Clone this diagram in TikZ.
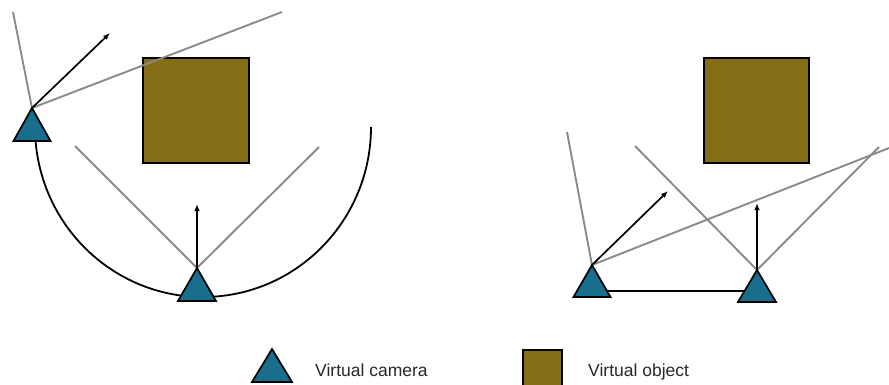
\documentclass[tikz,border=0pt]{standalone}
\usepackage{fontspec}
\setmainfont{Liberation Sans}
\usetikzlibrary{arrows.meta}
\definecolor{camblue}{RGB}{24,110,140}
\definecolor{objbrown}{RGB}{132,109,21}
\definecolor{raygray}{RGB}{138,138,138}
\definecolor{txtgray}{RGB}{40,40,40}
\tikzset{
  ray/.style={draw=raygray, line width=1.9pt},
  dir/.style={draw=black, line width=1.7pt, -{Latex[length=7pt,width=5.5pt]}},
  track/.style={draw=black, line width=1.8pt},
  objbox/.style={draw=black, line width=2.2pt, fill=objbrown},
  cambox/.style={draw=black, line width=1.7pt, fill=camblue, line join=miter},
  legendtext/.style={font=\fontsize{17.5}{20}\selectfont, text=txtgray, inner sep=0pt, anchor=base west}
}
\begin{document}
\begin{tikzpicture}[x=1pt,y=1pt]
\useasboundingbox (0,0) rectangle (889,384);
% ---------------- left diagram ----------------
\coordinate (c1) at (32,276);
\coordinate (c2) at (197,116);
\coordinate (c1up) at (13,372);
\coordinate (c1dir) at (110,351);
\coordinate (c1far) at (282,372);
\coordinate (c2dir) at (197,180);
\coordinate (c2l) at (75,238);
\coordinate (c2r) at (319,237);
\coordinate (arcR) at (371,257);
% object
\path[objbox] (143,221) rectangle (249,326);
% track arc
\draw[track] (arcR) arc[start angle=0, end angle=-175, x radius=168, y radius=170];
% rays
\draw[ray] (c1) -- (c1up);
\draw[ray] (c1) -- (c1far);
\draw[ray] (c2) -- (c2l);
\draw[ray] (c2) -- (c2r);
\draw[dir] (c1) -- (c1dir);
\draw[dir] (c2) -- (c2dir);
% cameras
\path[cambox] (c1) -- ++(-18.5,-33) -- ++(37,0) -- cycle;
\path[cambox] (c2) -- ++(-19,-33) -- ++(38,0) -- cycle;
% ---------------- right diagram ----------------
\coordinate (c3) at (592,119);
\coordinate (c4) at (757,114);
\coordinate (c3up) at (567,252);
\coordinate (c3dir) at (668,193);
\coordinate (c3far) at (889,236);
\coordinate (c4dir) at (757,181);
\coordinate (c4l) at (635,238);
\coordinate (c4r) at (879,237);
\coordinate (c3e) at (605,93);
\coordinate (c4w) at (746,93);
\path[objbox] (704,221) rectangle (809,326);
\draw[track] (c3e) -- (c4w);
\draw[ray] (c3) -- (c3up);
\draw[ray] (c3) -- (c3far);
\draw[ray] (c4) -- (c4l);
\draw[ray] (c4) -- (c4r);
\draw[dir] (c3) -- (c3dir);
\draw[dir] (c4) -- (c4dir);
\path[cambox] (c3) -- ++(-18.5,-32) -- ++(37,0) -- cycle;
\path[cambox] (c4) -- ++(-19,-32) -- ++(38,0) -- cycle;
% ---------------- legend ----------------
\path[cambox] (272,35) -- ++(-20,-33) -- ++(40,0) -- cycle;
\node[legendtext] (lcam) at (315,8) {Virtual camera};
\path[objbox] (523,-4) rectangle (562,34);
\node[legendtext] (lobj) at (588,8) {Virtual object};
\end{tikzpicture}
\end{document}
